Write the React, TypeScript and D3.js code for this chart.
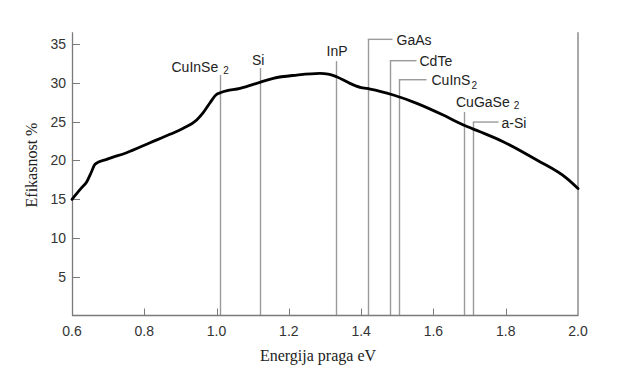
import React from "react";
import * as d3 from "d3";

const energy = [0.6, 0.625, 0.641, 0.654, 0.664, 0.696, 0.751, 0.816, 0.871, 0.908, 0.945, 0.963, 0.982, 0.998, 1.014, 1.065, 1.12, 1.157, 1.222, 1.286, 1.309, 1.332, 1.369, 1.397, 1.425, 1.489, 1.554, 1.627, 1.683, 1.729, 1.793, 1.886, 1.969, 2.0];
const efficiency = [15.0, 16.4, 17.27, 18.55, 19.54, 20.15, 21.0, 22.29, 23.37, 24.14, 25.21, 26.15, 27.44, 28.43, 28.78, 29.29, 30.06, 30.58, 31.0, 31.22, 31.13, 30.78, 29.93, 29.42, 29.2, 28.43, 27.36, 25.85, 24.57, 23.7, 22.42, 20.06, 17.7, 16.4];

const materials = ["CuInSe", "Si", "InP", "GaAs", "CdTe", "CuInS", "CuGaSe", "a-Si"];
const subscripts = ["2", "", "", "", "", "2", "2", ""];
const bandGaps = [1.01, 1.12, 1.33, 1.42, 1.48, 1.505, 1.685, 1.71];
const labelLevels = [31.0, 31.9, 32.8, 35.6, 32.85, 30.4, 26.25, 24.95];

const xTicks = [0.6, 0.8, 1.0, 1.2, 1.4, 1.6, 1.8, 2.0];
const yTicks = [5, 10, 15, 20, 25, 30, 35];

// layout (style, not data)
const labelStyle = [
  { kind: "top", dx: -49, dy: -3.5, subGap: 5 },
  { kind: "top", dx: -8.5, dy: -3.5, subGap: 0 },
  { kind: "top", dx: -10, dy: -5.5, subGap: 0 },
  { kind: "lead", lead: 24, gap: 4 },
  { kind: "lead", lead: 26, gap: 3 },
  { kind: "lead", lead: 27, gap: 5 },
  { kind: "top", dx: -8.5, dy: -5, subGap: 4 },
  { kind: "lead", lead: 25, gap: 3 },
];

export default function App() {
  const W = 640, H = 380;
  const x = d3.scaleLinear().domain([0.6, 2.0]).range([72, 578]);
  const y = d3.scaleLinear().domain([0, 35]).range([315.8, 44]);
  const yTop = y(36.5);
  const yBase = 315.5;
  const pts = energy.map((e, i) => [e, efficiency[i]] as [number, number]);
  const line = d3
    .line<[number, number]>()
    .x((d) => x(d[0]))
    .y((d) => y(d[1]))
    .curve(d3.curveMonotoneX);

  const sans = "'Liberation Sans', Arial, sans-serif";
  const serif = "'Liberation Serif', 'Times New Roman', serif";
  const axisColor = "#7a7a7a";
  const refColor = "#9a9a9a";
  const textColor = "#222";

  return (
    <svg width={W} height={H} style={{ position: "absolute", left: 0, top: 0, background: "#fff" }}>
      {/* reference lines */}
      {bandGaps.map((g, i) => {
        const st = labelStyle[i];
        const xx = Math.round(x(g)) + 0.5;
        const yt = y(labelLevels[i]);
        return (
          <g key={materials[i]}>
            <line x1={xx} x2={xx} y1={yt} y2={yBase} stroke={refColor} strokeWidth={1.4} />
            {st.kind === "lead" ? (
              <>
                <line x1={xx - 0.7} x2={xx + (st.lead as number)} y1={yt} y2={yt} stroke={refColor} strokeWidth={1.4} />
                <text
                  x={xx + (st.lead as number) + (st.gap as number)}
                  y={yt + 5.5}
                  fontFamily={sans}
                  fontSize={14}
                  fill={textColor}
                >
                  {materials[i]}
                  {subscripts[i] && (
                    <tspan fontSize={10} dy={4} dx={1}>
                      {subscripts[i]}
                    </tspan>
                  )}
                </text>
              </>
            ) : (
              <text x={xx + (st.dx as number)} y={yt + (st.dy as number)} fontFamily={sans} fontSize={14} fill={textColor}>
                {materials[i]}
                {subscripts[i] && (
                  <tspan fontSize={10} dy={2} dx={st.subGap as number}>
                    {subscripts[i]}
                  </tspan>
                )}
              </text>
            )}
          </g>
        );
      })}

      {/* axes */}
      <line x1={72.5} x2={72.5} y1={yTop} y2={yBase} stroke={axisColor} strokeWidth={1.3} />
      <line x1={72} x2={578.5} y1={yBase} y2={yBase} stroke={axisColor} strokeWidth={1.3} />
      <line x1={578} x2={578} y1={yTop} y2={yBase} stroke={axisColor} strokeWidth={1.3} />
      {yTicks.map((t) => (
        <g key={t}>
          <line x1={72.5} x2={80} y1={Math.round(y(t)) + 0.5} y2={Math.round(y(t)) + 0.5} stroke={axisColor} strokeWidth={1} />
          <text x={66} y={y(t) + 5} textAnchor="end" fontFamily={sans} fontSize={14} fill="#333">
            {t}
          </text>
        </g>
      ))}
      {xTicks.map((t) => (
        <g key={t}>
          {t > 0.6 && t < 2.0 && (
            <line x1={Math.round(x(t)) + 0.5} x2={Math.round(x(t)) + 0.5} y1={yBase} y2={yBase - 7} stroke={axisColor} strokeWidth={1} />
          )}
          <text x={x(t)} y={336} textAnchor="middle" fontFamily={sans} fontSize={14} fill="#333">
            {t.toFixed(1)}
          </text>
        </g>
      ))}

      {/* curve */}
      <path d={line(pts) || ""} fill="none" stroke="#000" strokeWidth={2.8} strokeLinejoin="round" strokeLinecap="round" />

      {/* titles */}
      <text x={318} y={361} textAnchor="middle" fontFamily={serif} fontSize={16} fill={textColor}>
        Energija praga eV
      </text>
      <text
        transform={`translate(37,${165}) rotate(-90)`}
        textAnchor="middle"
        fontFamily={serif}
        fontSize={16}
        fill={textColor}
      >
        Efikasnost %
      </text>
    </svg>
  );
}
